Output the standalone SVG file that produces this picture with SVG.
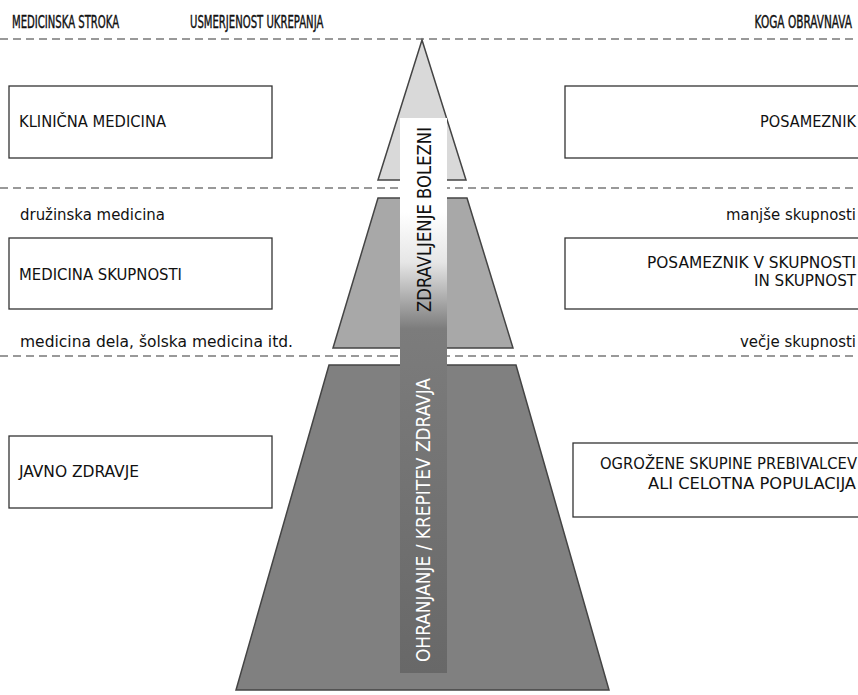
<svg xmlns="http://www.w3.org/2000/svg" width="858" height="695" viewBox="0 0 858 695">
<style>
.t{font-family:"DejaVu Sans Condensed","Liberation Sans Narrow","Liberation Sans",sans-serif;fill:#111;}
.h{font-size:17px;stroke:#111;stroke-width:0.4;}
.b{font-size:15.5px;}
.s{font-size:15px;}
.box{fill:#fff;stroke:#333;stroke-width:1.3;}
.dash{stroke:#999;stroke-width:2;stroke-dasharray:8 5;fill:none;}
.pyr{stroke:#444;stroke-width:1.5;}
</style>
<defs>
<linearGradient id="bar" gradientUnits="userSpaceOnUse" x1="0" y1="118" x2="0" y2="673">
<stop offset="0" stop-color="#ffffff"/>
<stop offset="0.17" stop-color="#ffffff"/>
<stop offset="0.26" stop-color="#e6e6e6"/>
<stop offset="0.38" stop-color="#7c7c7c"/>
<stop offset="1" stop-color="#686868"/>
</linearGradient>
</defs>
<rect width="858" height="695" fill="#fff"/>
<g id="headers">
<text class="t h" transform="translate(12,28) scale(0.66,1)">MEDICINSKA STROKA</text>
<text class="t h" transform="translate(190,28) scale(0.66,1)">USMERJENOST UKREPANJA</text>
<text class="t h" transform="translate(852,28) scale(0.69,1)" text-anchor="end">KOGA OBRAVNAVA</text>
</g>
<g id="separators">
<line class="dash" x1="0" y1="39" x2="858" y2="39"/>
<line class="dash" x1="0" y1="188" x2="858" y2="188"/>
<line class="dash" x1="0" y1="356" x2="858" y2="356"/>
</g>
<g id="pyramid">
<polygon id="tier1" class="pyr" points="422,40 466,180 378,180" fill="#d9d9d9"/>
<polygon id="tier2" class="pyr" points="378,198 467,198 513,348 333,348" fill="#a8a8a8"/>
<polygon id="tier3" class="pyr" points="329,365 516,365 609,690 236,690" fill="#808080"/>
</g>
<g id="arrow-bar">
<rect x="400" y="118" width="47" height="555" fill="url(#bar)"/>
<text class="t" font-size="19" transform="translate(431,312) rotate(-90)" textLength="185" lengthAdjust="spacingAndGlyphs" fill="#111">ZDRAVLJENJE  BOLEZNI</text>
<text class="t" font-size="19" transform="translate(430,662) rotate(-90)" textLength="284" lengthAdjust="spacingAndGlyphs" style="fill:#fff">OHRANJANJE  /  KREPITEV  ZDRAVJA</text>
</g>
<g id="left-clinical">
<rect class="box" x="9" y="86" width="263" height="72"/>
<text class="t b" x="19" y="127" textLength="147" lengthAdjust="spacingAndGlyphs">KLINIČNA MEDICINA</text>
</g>
<g id="right-individual">
<rect class="box" x="565" y="86" width="300" height="72"/>
<text class="t b" x="856" y="127" text-anchor="end" textLength="96" lengthAdjust="spacingAndGlyphs">POSAMEZNIK</text>
</g>
<g id="left-community">
<text class="t s" x="20" y="220" textLength="145" lengthAdjust="spacingAndGlyphs">družinska medicina</text>
<rect class="box" x="9" y="238" width="263" height="71"/>
<text class="t b" x="19" y="280" textLength="163" lengthAdjust="spacingAndGlyphs">MEDICINA SKUPNOSTI</text>
<text class="t s" x="20" y="347" textLength="273" lengthAdjust="spacingAndGlyphs">medicina dela, šolska medicina itd.</text>
</g>
<g id="right-community">
<text class="t s" x="856" y="220" text-anchor="end" textLength="130" lengthAdjust="spacingAndGlyphs">manjše skupnosti</text>
<rect class="box" x="565" y="238" width="300" height="71"/>
<text class="t b" x="856" y="268" text-anchor="end" textLength="209" lengthAdjust="spacingAndGlyphs">POSAMEZNIK V  SKUPNOSTI</text>
<text class="t b" x="856" y="286" text-anchor="end" textLength="102" lengthAdjust="spacingAndGlyphs">IN SKUPNOST</text>
<text class="t s" x="856" y="347" text-anchor="end" textLength="116" lengthAdjust="spacingAndGlyphs">večje skupnosti</text>
</g>
<g id="left-public">
<rect class="box" x="9" y="436" width="263" height="72"/>
<text class="t b" x="19" y="477" textLength="120" lengthAdjust="spacingAndGlyphs">JAVNO ZDRAVJE</text>
</g>
<g id="right-public">
<rect class="box" x="573" y="443" width="300" height="74"/>
<text class="t b" x="857" y="469" text-anchor="end" textLength="257" lengthAdjust="spacingAndGlyphs">OGROŽENE SKUPINE PREBIVALCEV</text>
<text class="t b" x="856" y="489" text-anchor="end" textLength="208" lengthAdjust="spacingAndGlyphs">ALI  CELOTNA POPULACIJA</text>
</g>
</svg>
